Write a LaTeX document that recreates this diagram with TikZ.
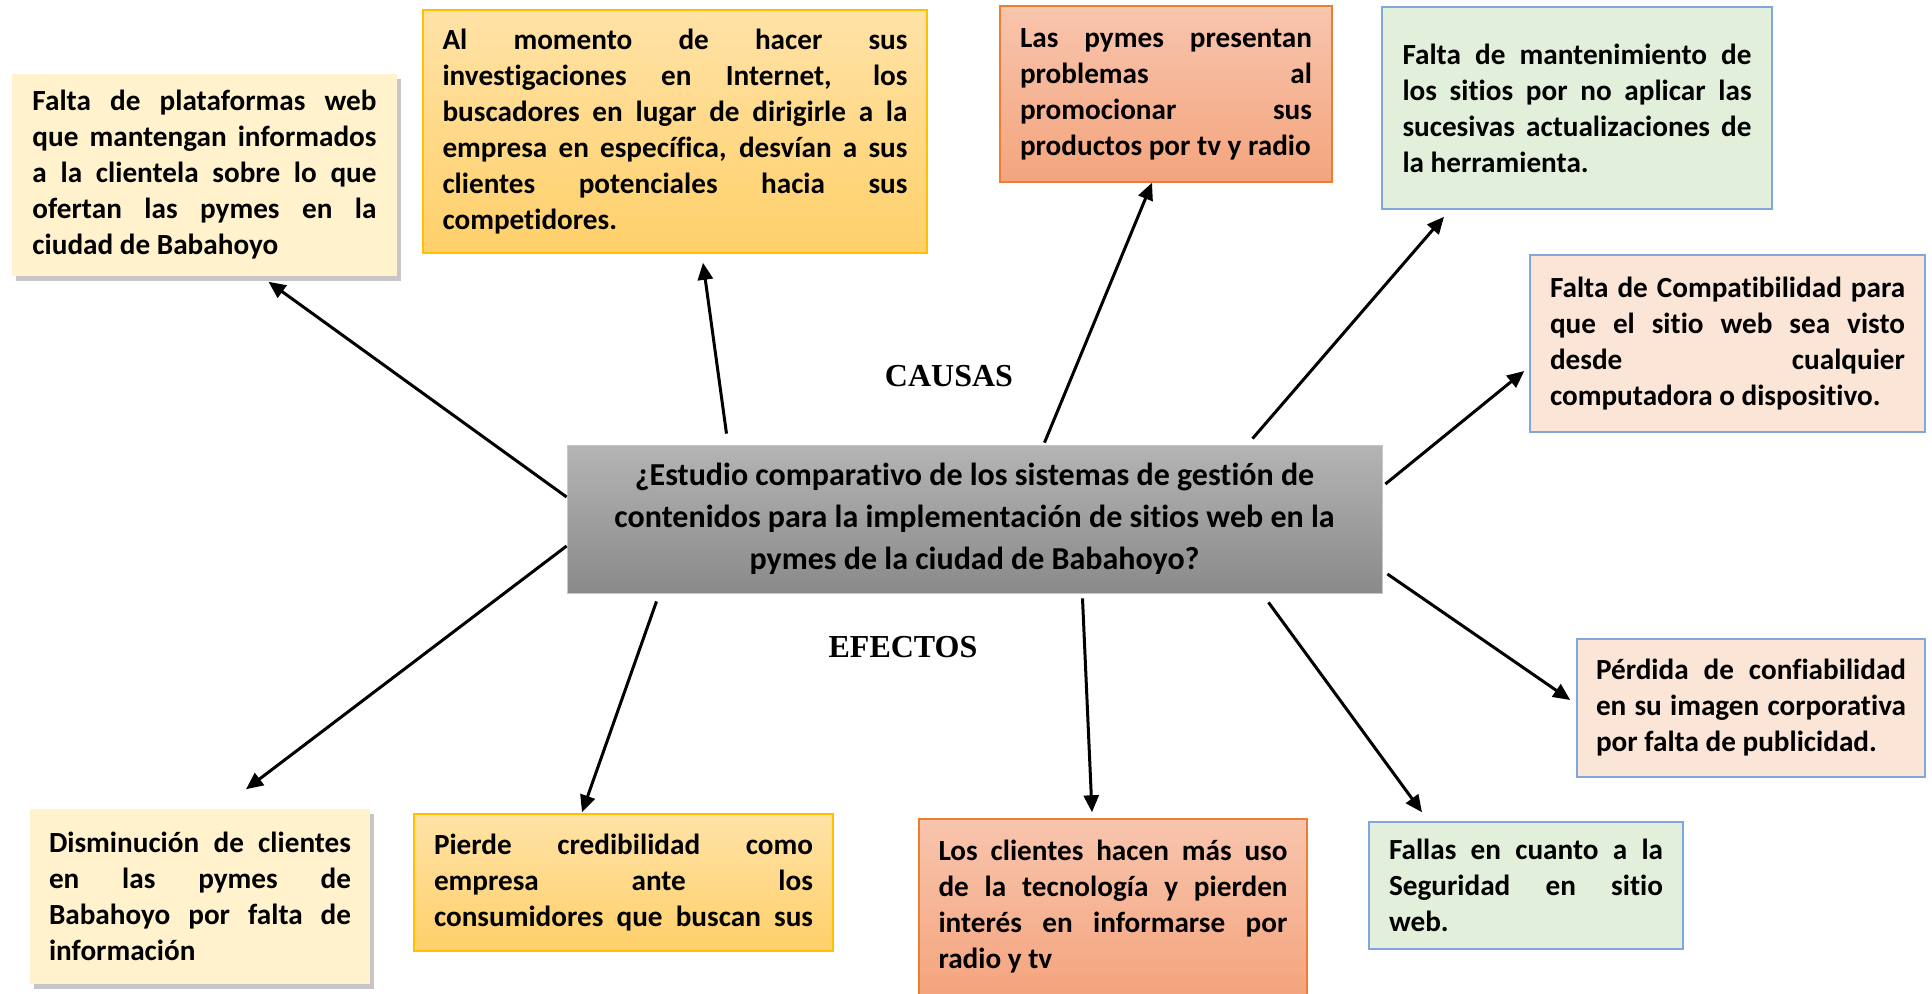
\documentclass[tikz,border=0pt]{standalone}
\usepackage{fontspec}
\setmainfont{Carlito}[Ligatures={NoCommon}]
\newfontfamily\titulo{Liberation Serif}
\usetikzlibrary{arrows.meta}
\usetikzlibrary{shadows}

\definecolor{crema}{HTML}{FFF2CC}
\definecolor{oroA}{HTML}{FFE2A6}
\definecolor{oroB}{HTML}{FFD06A}
\definecolor{oroL}{HTML}{FFC000}
\definecolor{salA}{HTML}{F8C5AE}
\definecolor{salB}{HTML}{F4A47D}
\definecolor{salL}{HTML}{ED7D31}
\definecolor{verdeC}{HTML}{E2EFDA}
\definecolor{duraC}{HTML}{FBE5D6}
\definecolor{azulL}{HTML}{7FA6DD}
\definecolor{grisA}{HTML}{B4B4B4}
\definecolor{grisB}{HTML}{8A8A8A}

\hbadness=10000
\hyphenpenalty=10000
\exhyphenpenalty=10000
\tolerance=10000

\begin{document}
\begin{tikzpicture}[x=0.5pt, y=-0.5pt,
    caja/.style={rectangle, inner sep=0pt, line width=0.75pt, align=justify,
      font=\fontsize{14.6}{18}\selectfont\bfseries},
    crema/.style={fill=crema, drop shadow={shadow xshift=2pt, shadow yshift=-2.5pt, opacity=0.45}},
    dorada/.style={draw=oroL, top color=oroA, bottom color=oroB},
    salmon/.style={draw=salL, top color=salA, bottom color=salB},
    verde/.style={draw=azulL, fill=verdeC},
    durazno/.style={draw=azulL, fill=duraC},
    flecha/.style={line width=1.5pt, -{Triangle[length=8.5pt,width=7.5pt]}}]
        \clip (0,0) rectangle (1932,993);
        %problema central
        \node[rectangle, draw=gray!45, top color=grisA, bottom color=grisB,
              minimum width=407.5pt, minimum height=74pt, align=center,
              font=\fontsize{16}{21}\selectfont\bfseries] (central) at (974.5,519)
              {¿Estudio comparativo de los sistemas de gestión de\\
               contenidos para la implementación de sitios web en la\\
               pymes de la ciudad de Babahoyo?};
        \node[font=\titulo\fontsize{16}{19}\selectfont\bfseries] (causas) at (949,376) {CAUSAS};
        \node[font=\titulo\fontsize{16}{19}\selectfont\bfseries] (efectos) at (903,647) {EFECTOS};
        %causas
        \node[caja, crema, minimum width=192.5pt, minimum height=101pt, text width=172pt]
              (plataformas) at (204.5,175)
              {Falta de plataformas web\linebreak que mantengan informados\linebreak
               a la clientela sobre lo que\linebreak ofertan las pymes en la\linebreak
               ciudad de Babahoyo};
        \node[caja, dorada, minimum width=252pt, minimum height=121.5pt, text width=232.5pt]
              (buscadores) at (675,131.5)
              {Al momento de hacer sus\linebreak investigaciones en Internet, los\linebreak
               buscadores en lugar de dirigirle a la\linebreak empresa en específica, desvían a sus\linebreak
               clientes potenciales hacia sus\linebreak competidores.};
        \node[caja, salmon, minimum width=166pt, minimum height=88pt, text width=146pt]
              (promocion) at (1166,94)
              {Las pymes presentan\linebreak problemas al\linebreak promocionar sus\linebreak
               productos por tv y radio};
        \node[caja, verde, minimum width=195pt, minimum height=101pt, text width=174.5pt]
              (mantenimiento) at (1577,108)
              {Falta de mantenimiento de\linebreak los sitios por no aplicar las\linebreak
               sucesivas actualizaciones de\linebreak la herramienta.};
        \node[caja, durazno, minimum width=197.5pt, minimum height=88.5pt, text width=177.5pt]
              (compatibilidad) at (1727.5,343.5)
              {Falta de Compatibilidad para\linebreak que el sitio web sea visto\linebreak
               desde cualquier\linebreak computadora o dispositivo.};
        %efectos
        \node[caja, durazno, minimum width=174pt, minimum height=69pt, text width=155pt]
              (confianza) at (1751,708)
              {Pérdida de confiabilidad\linebreak en su imagen corporativa\linebreak
               por falta de publicidad.};
        \node[caja, verde, minimum width=157pt, minimum height=63.5pt, text width=137pt]
              (seguridad) at (1526,885.5)
              {Fallas en cuanto a la\linebreak Seguridad en sitio\linebreak web.};
        \node[caja, salmon, minimum width=194pt, minimum height=88pt, text width=174.5pt]
              (tecnologia) at (1113,907)
              {Los clientes hacen más uso\linebreak de la tecnología y pierden\linebreak
               interés en informarse por\linebreak radio y tv};
        \node[caja, dorada, minimum width=209.5pt, minimum height=68.5pt, text width=189.5pt]
              (credibilidad) at (623.5,882.5)
              {Pierde credibilidad como\linebreak empresa ante los\linebreak
               consumidores que buscan sus\parfillskip=0pt\par};
        \node[caja, crema, minimum width=170pt, minimum height=87.5pt, text width=151pt]
              (clientes) at (200,896.5)
              {Disminución de clientes\linebreak en las pymes de\linebreak
               Babahoyo por falta de\linebreak información};
        %flechas hacia las causas
        \draw[flecha] ([yshift=11pt]central.west) -- ([xshift=32pt,yshift=-2.5pt]plataformas.south);
        \draw[flecha] ([xshift=-124pt,yshift=5.5pt]central.north) -- ([xshift=14pt,yshift=-4.5pt]buscadores.south);
        \draw[flecha] ([xshift=35pt,yshift=1pt]central.north) -- ([xshift=-7pt]promocion.south);
        \draw[flecha] ([xshift=139pt,yshift=3pt]central.north) -- ([xshift=-66.5pt,yshift=-3.5pt]mantenimiento.south);
        \draw[flecha] ([xshift=1.5pt,yshift=17.5pt]central.east) -- ([xshift=-2.5pt,yshift=-13.75pt]compatibilidad.west);
        %flechas hacia los efectos
        \draw[flecha] ([xshift=2.5pt,yshift=-27.5pt]central.east) -- ([xshift=-3pt,yshift=4pt]confianza.west);
        \draw[flecha] ([xshift=147pt,yshift=-4.5pt]central.south) -- ([xshift=-52pt,yshift=4.5pt]seguridad.north);
        \draw[flecha] ([xshift=54pt,yshift=-2.5pt]central.south) -- ([xshift=-10.5pt,yshift=3pt]tecnologia.north);
        \draw[flecha] ([xshift=-159pt,yshift=-4pt]central.south) -- ([xshift=-20.75pt,yshift=0.5pt]credibilidad.north);
        \draw[flecha] ([yshift=-13.5pt]central.west) -- ([xshift=23pt,yshift=9.5pt]clientes.north);
\end{tikzpicture}
\end{document}
